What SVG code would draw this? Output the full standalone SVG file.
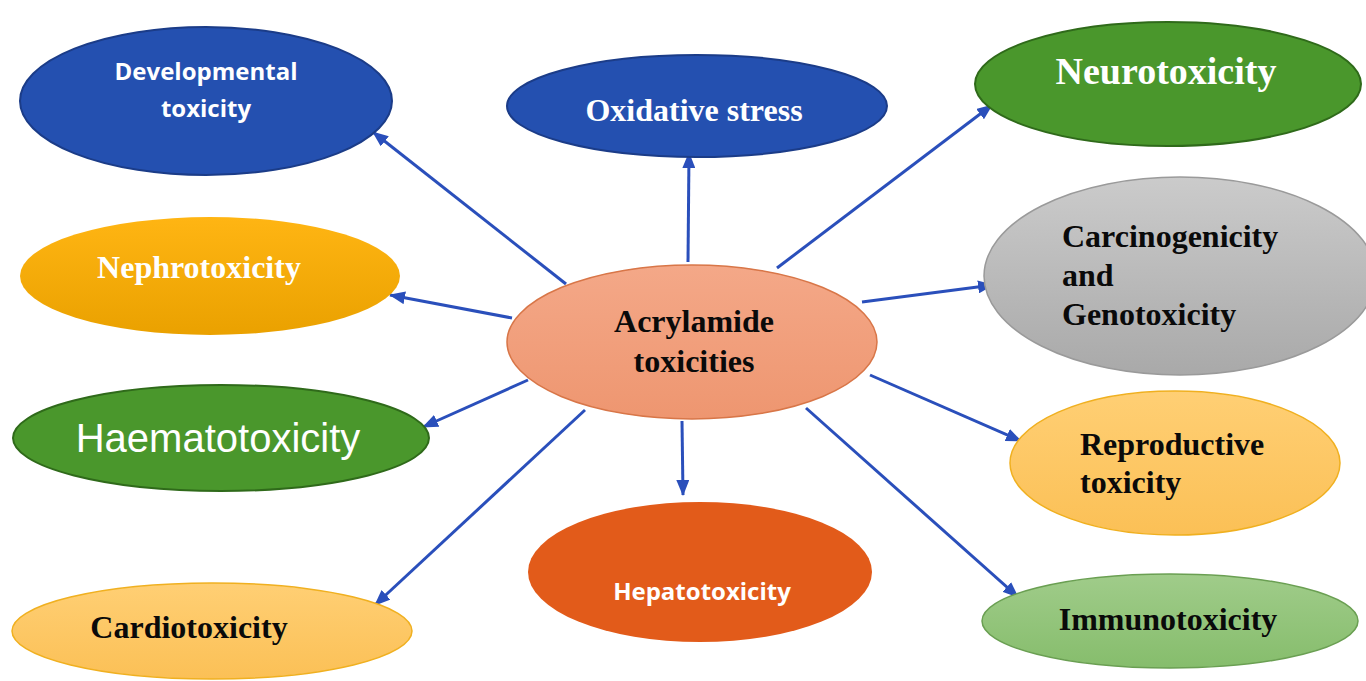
<svg xmlns="http://www.w3.org/2000/svg" width="1366" height="681" viewBox="0 0 1366 681">
<style>
.tb{font-family:"Liberation Serif","Times New Roman",serif;font-weight:bold;font-size:32px}
.w{fill:#ffffff}
.k{fill:#0a0a0a}
.cal{font-family:"Open Sans","Liberation Sans",sans-serif;font-weight:bold;font-size:24px;fill:#ffffff}
.conn line{stroke:#2a4fbb;stroke-width:3;fill:none;marker-end:url(#ah)}
</style>
<defs>
<marker id="ah" viewBox="0 0 16 13" refX="15" refY="6.5" markerWidth="16" markerHeight="13" markerUnits="userSpaceOnUse" orient="auto">
<path d="M0,0 L16,6.5 L0,13 z" fill="#2a4fbb"/>
</marker>
<linearGradient id="gGray" x1="0" y1="0" x2="0" y2="1"><stop offset="0" stop-color="#cbcbcb"/><stop offset="1" stop-color="#a9a9a9"/></linearGradient>
<linearGradient id="gOr" x1="0" y1="0" x2="0" y2="1"><stop offset="0" stop-color="#ffb513"/><stop offset="1" stop-color="#eaa100"/></linearGradient>
<linearGradient id="gLt" x1="0" y1="0" x2="0" y2="1"><stop offset="0" stop-color="#ffcf74"/><stop offset="1" stop-color="#fbc056"/></linearGradient>
<linearGradient id="gSal" x1="0" y1="0" x2="0" y2="1"><stop offset="0" stop-color="#f4a888"/><stop offset="1" stop-color="#ee9670"/></linearGradient>
<linearGradient id="gLg" x1="0" y1="0" x2="0" y2="1"><stop offset="0" stop-color="#a0cc8a"/><stop offset="1" stop-color="#86bd6c"/></linearGradient>
</defs>
<rect width="1366" height="681" fill="#ffffff"/>

<g id="connectors" class="conn">
<line x1="566" y1="284" x2="373" y2="132"/>
<line x1="688" y1="262" x2="689" y2="153"/>
<line x1="777" y1="268" x2="992" y2="105"/>
<line x1="862" y1="302" x2="993" y2="285"/>
<line x1="512" y1="318" x2="390" y2="295"/>
<line x1="528" y1="380" x2="423" y2="427"/>
<line x1="585" y1="410" x2="375" y2="605"/>
<line x1="682" y1="421" x2="683" y2="495"/>
<line x1="870" y1="375" x2="1021" y2="441"/>
<line x1="806" y1="408" x2="1018" y2="597"/>
</g>

<g id="developmental">
<ellipse cx="206" cy="101" rx="186" ry="74" fill="#2450b0" stroke="#1b3c88" stroke-width="2"/>
<text class="cal" x="206" y="80" text-anchor="middle">Developmental</text>
<text class="cal" x="206" y="117" text-anchor="middle">toxicity</text>
</g>

<g id="oxidative">
<ellipse cx="697" cy="106" rx="190" ry="51" fill="#2450b0" stroke="#1b3c88" stroke-width="2"/>
<text class="tb w" x="694" y="121" text-anchor="middle">Oxidative stress</text>
</g>

<g id="neuro">
<ellipse cx="1168" cy="84" rx="193" ry="62" fill="#4a972c" stroke="#2f6a1a" stroke-width="2"/>
<text class="tb w" x="1166" y="84" text-anchor="middle" style="font-size:38px">Neurotoxicity</text>
</g>

<g id="carcino">
<ellipse cx="1180" cy="276" rx="196" ry="99" fill="url(#gGray)" stroke="#9a9a9a" stroke-width="1.5"/>
<text class="tb k" x="1062" y="247">Carcinogenicity</text>
<text class="tb k" x="1062" y="286">and</text>
<text class="tb k" x="1062" y="325">Genotoxicity</text>
</g>

<g id="nephro">
<ellipse cx="210" cy="276" rx="190" ry="59" fill="url(#gOr)"/>
<text class="tb w" x="199" y="278" text-anchor="middle">Nephrotoxicity</text>
</g>

<g id="center">
<ellipse cx="692" cy="342" rx="185" ry="77" fill="url(#gSal)" stroke="#d87648" stroke-width="1.5"/>
<text class="tb k" x="694" y="332" text-anchor="middle">Acrylamide</text>
<text class="tb k" x="694" y="372" text-anchor="middle">toxicities</text>
</g>

<g id="haemato">
<ellipse cx="221" cy="438" rx="208" ry="53" fill="#4a972c" stroke="#2f6a1a" stroke-width="2"/>
<text x="218" y="452" text-anchor="middle" fill="#ffffff" style="font-family:'Liberation Sans',Arial,sans-serif;font-size:40px">Haematotoxicity</text>
</g>

<g id="repro">
<ellipse cx="1175" cy="463" rx="165" ry="72" fill="url(#gLt)" stroke="#f0b020" stroke-width="1.5"/>
<text class="tb k" x="1080" y="455">Reproductive</text>
<text class="tb k" x="1080" y="493">toxicity</text>
</g>

<g id="hepato">
<ellipse cx="700" cy="572" rx="172" ry="70" fill="#e25b1a"/>
<text class="cal" x="702" y="600" text-anchor="middle">Hepatotoxicity</text>
</g>

<g id="cardio">
<ellipse cx="212" cy="631" rx="200" ry="48" fill="url(#gLt)" stroke="#f0b020" stroke-width="1.5"/>
<text class="tb k" x="189" y="638" text-anchor="middle">Cardiotoxicity</text>
</g>

<g id="immuno">
<ellipse cx="1170" cy="621" rx="188" ry="47" fill="url(#gLg)" stroke="#6a9f52" stroke-width="1.5"/>
<text class="tb k" x="1168" y="630" text-anchor="middle">Immunotoxicity</text>
</g>
</svg>
